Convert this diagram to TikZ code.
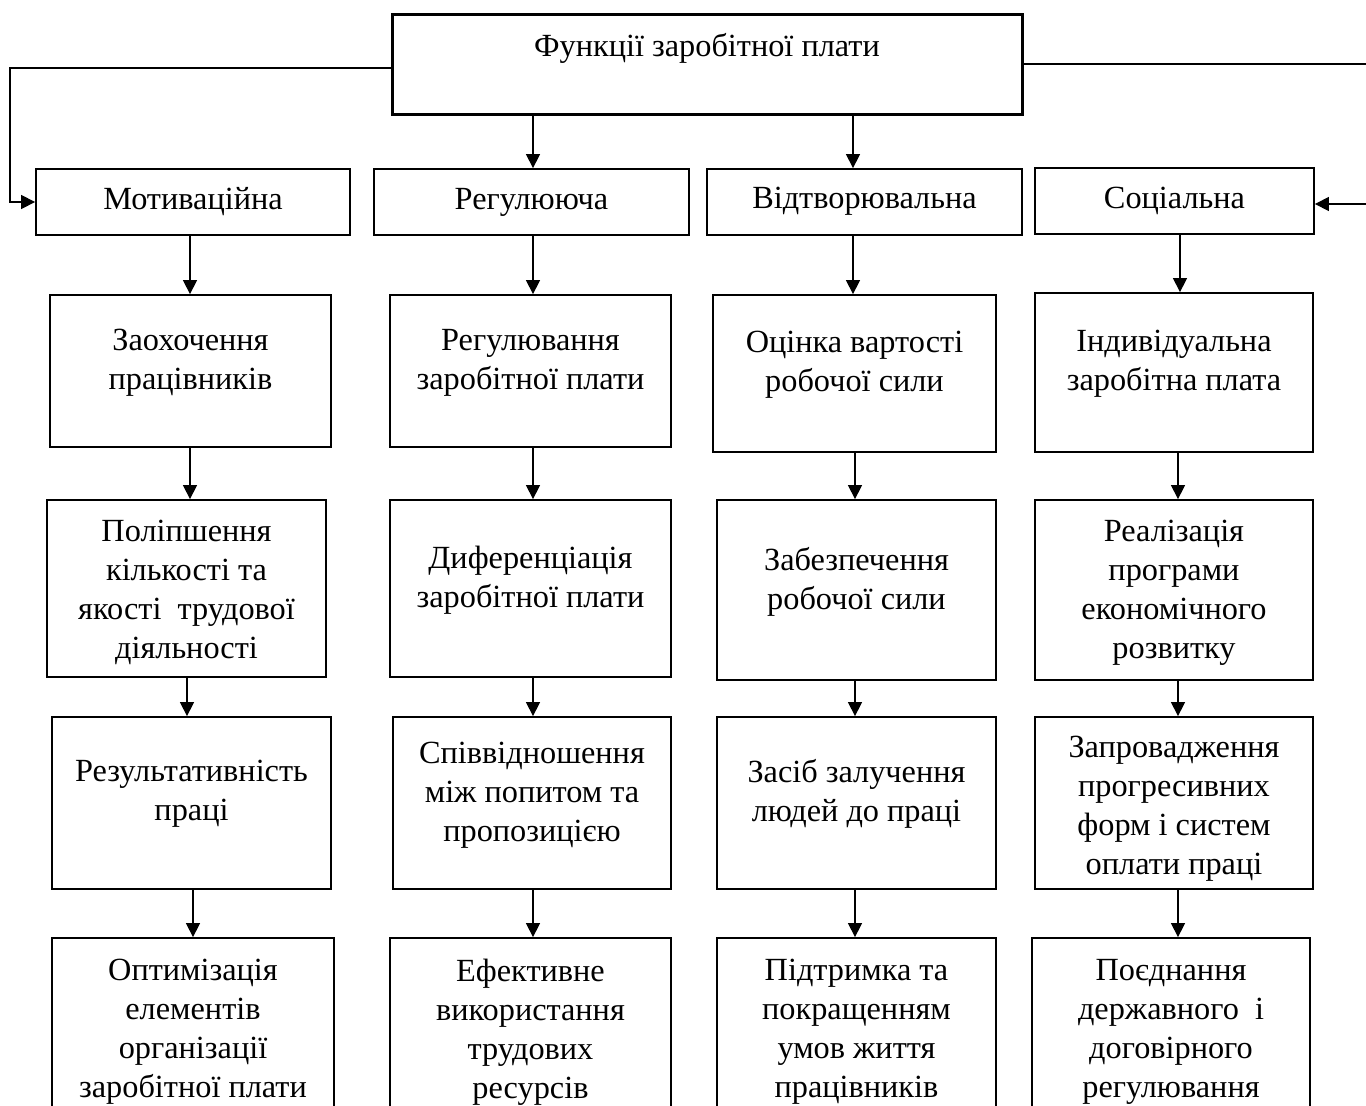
\documentclass[tikz,border=0pt]{standalone}
\usepackage{fontspec}
\setmainfont{Liberation Serif}
\usetikzlibrary{arrows.meta}
\tikzset{
  box/.style={draw, line width=1.8pt, inner sep=0pt},
  topbox/.style={box, line width=3pt},
  txt/.style={align=center, inner sep=0pt, font=\fontsize{32.3}{39}\selectfont},
  conn/.style={line width=1.3pt},
  arr/.style={conn, -{Triangle[length=14pt,width=14pt]}}
}
% name, left, top, right, bottom, text shift (up, pt), text
\newcommand{\bx}[7]{%
  \node[box, minimum width={(#4-#2)*1pt}, minimum height={(#5-#3)*1pt}] (#1) at ({(#2+#4)/2},{(#3+#5)/2}) {};
  \node[txt] (#1t) at ([yshift=#6pt]#1.center) {#7};}
\begin{document}
\begin{tikzpicture}[x=1pt,y=-1pt]
\useasboundingbox (0,0) rectangle (1366,1106);
\clip (0,0) rectangle (1366,1106);
\node[topbox, minimum width=630pt, minimum height=100pt] (top) at (707,64) {};
\node[txt] (topt) at ([yshift=16pt]top.center) {Функції заробітної плати};
% row 1
\bx{mot}{36}{169}{350}{235}{0}{Мотиваційна}
\bx{reg}{374}{169}{689}{235}{0}{Регулююча}
\bx{vid}{707}{169}{1022}{235}{1}{Відтворювальна}
\bx{soc}{1035}{168}{1314}{234}{0}{Соціальна}
% row 2
\bx{a2}{50}{295}{331}{447}{8}{Заохочення\\працівників}
\bx{b2}{390}{295}{671}{447}{8}{Регулювання\\заробітної плати}
\bx{c2}{713}{295}{996}{452}{9}{Оцінка вартості\\робочої сили}
\bx{d2}{1035}{293}{1313}{452}{9}{Індивідуальна\\заробітна плата}
% row 3
\bx{a3}{47}{500}{326}{677}{-4}{Поліпшення\\кількості та\\якості~ трудової\\діяльності}
\bx{b3}{390}{500}{671}{677}{8}{Диференціація\\заробітної плати}
\bx{c3}{717}{500}{996}{680}{8}{Забезпечення\\робочої сили}
\bx{d3}{1035}{500}{1313}{680}{-3}{Реалізація\\програми\\економічного\\розвитку}
% row 4
\bx{a4}{52}{717}{331}{889}{9}{Результативність\\праці}
\bx{b4}{393}{717}{671}{889}{8}{Співвідношення\\між попитом та\\пропозицією}
\bx{c4}{717}{717}{996}{889}{9}{Засіб залучення\\людей до праці}
\bx{d4}{1035}{717}{1313}{889}{-6}{Запровадження\\прогресивних\\форм і систем\\оплати праці}
% row 5
\bx{a5}{52}{938}{334}{1122}{-2}{Оптимізація\\елементів\\організації\\заробітної плати}
\bx{b5}{390}{938}{671}{1122}{-2}{Ефективне\\використання\\трудових\\ресурсів}
\bx{c5}{717}{938}{996}{1122}{-2}{Підтримка та\\покращенням\\умов життя\\працівників}
\bx{d5}{1032}{938}{1310}{1122}{-2}{Поєднання\\державного~ і\\договірного\\регулювання}
% connectors from top
\draw[arr] ([yshift=-4pt]top.west) -- (10,68) |- (mot.west);
\draw[arr] (top.east) -- (1370,64) |- ([yshift=-3pt]soc.east);
\draw[arr] (533,0 |- top.south) -- (533,0 |- reg.north);
\draw[arr] (853,0 |- top.south) -- (853,0 |- vid.north);
% column 1
\draw[arr] (190,0 |- mot.south) -- (190,0 |- a2.north);
\draw[arr] (190,0 |- a2.south) -- (190,0 |- a3.north);
\draw[arr] (187,0 |- a3.south) -- (187,0 |- a4.north);
\draw[arr] (193,0 |- a4.south) -- (193,0 |- a5.north);
% column 2
\draw[arr] (533,0 |- reg.south) -- (533,0 |- b2.north);
\draw[arr] (533,0 |- b2.south) -- (533,0 |- b3.north);
\draw[arr] (533,0 |- b3.south) -- (533,0 |- b4.north);
\draw[arr] (533,0 |- b4.south) -- (533,0 |- b5.north);
% column 3
\draw[arr] (853,0 |- vid.south) -- (853,0 |- c2.north);
\draw[arr] (855,0 |- c2.south) -- (855,0 |- c3.north);
\draw[arr] (855,0 |- c3.south) -- (855,0 |- c4.north);
\draw[arr] (855,0 |- c4.south) -- (855,0 |- c5.north);
% column 4
\draw[arr] (1180,0 |- soc.south) -- (1180,0 |- d2.north);
\draw[arr] (1178,0 |- d2.south) -- (1178,0 |- d3.north);
\draw[arr] (1178,0 |- d3.south) -- (1178,0 |- d4.north);
\draw[arr] (1178,0 |- d4.south) -- (1178,0 |- d5.north);
\end{tikzpicture}
\end{document}
